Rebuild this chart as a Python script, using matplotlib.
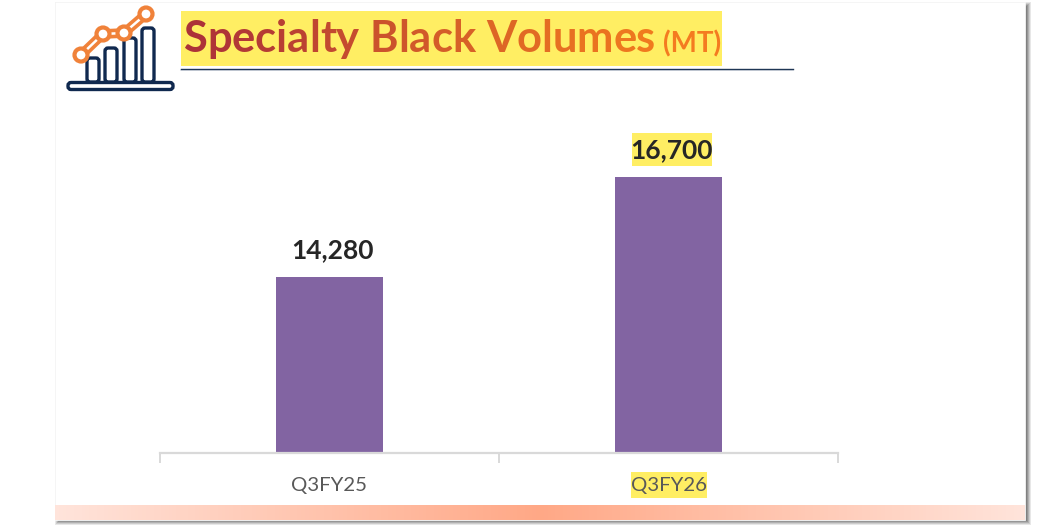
import matplotlib
matplotlib.use("Agg")
import matplotlib.pyplot as plt
from matplotlib.patches import Rectangle, FancyBboxPatch, Circle
from matplotlib.colors import LinearSegmentedColormap, to_rgb
import numpy as np

plt.rcParams['font.family'] = ['Lato', 'DejaVu Sans']

# Chart data
quarters = ["Q3FY25", "Q3FY26"]
volumes = [14280, 16700]
title_main = "Specialty Black Volumes"
title_unit = "(MT)"

W, H = 1037, 526
fig = plt.figure(figsize=(W / 100, H / 100), dpi=100)

# === Slide background, in pixel coordinates ===
bg = fig.add_axes([0, 0, 1, 1], zorder=0)
bg.set_xlim(0, W)
bg.set_ylim(H, 0)
bg.axis("off")

# soft shadow
for grow, a in [(5, 0.14), (4, 0.18), (3, 0.24), (2, 0.30), (1, 0.36), (0, 0.45)]:
    bg.add_patch(Rectangle((60 - grow, 7 - grow), 966 + 2 * grow, 513 + 2 * grow,
                           fc="#5a5a5a", ec="none", alpha=a))
bg.add_patch(Rectangle((55, 2), 970, 518, fc="white", ec="#f6f6f6", lw=0.6))

band = LinearSegmentedColormap.from_list("band", ["#FFE4DB", "#FFA886", "#FFE4DB"])
bg.imshow(np.linspace(0, 1, 256).reshape(1, -1), cmap=band, aspect="auto",
          extent=(55, 1025, 520, 505), zorder=2)
bg.set_xlim(0, W)
bg.set_ylim(H, 0)

# highlights behind the texts
yellow = "#FFEE63"
bg.add_patch(Rectangle((181, 11), 541, 55, fc=yellow, ec="none", zorder=3))
bg.add_patch(Rectangle((632, 133), 80, 33, fc=yellow, ec="none", zorder=3))
bg.add_patch(Rectangle((631, 472), 76, 26, fc=yellow, ec="none", zorder=3))

# title rule
bg.plot([181, 793], [70, 70], color="#dfe3ea", lw=1.2, zorder=3)
bg.plot([181, 793], [69, 69], color="#1F3655", lw=1.0, zorder=3)

# === Icon ===
navy = "#10294F"
orange = "#F0823A"
bg.add_patch(FancyBboxPatch((68, 82.5), 105, 7, boxstyle="round,pad=0,rounding_size=3",
                            fc="white", ec=navy, lw=2.4, zorder=4))
for left, top in [(87, 58), (105, 48), (124, 38), (142, 28)]:
    bg.add_patch(FancyBboxPatch((left, top), 12, 82 - top, boxstyle="round,pad=0,rounding_size=3",
                                fc="white", ec=navy, lw=2.4, zorder=4))
nodes = [(81, 55), (103, 34), (124, 33), (146, 14)]
for (x0, y0), (x1, y1) in zip(nodes[:-1], nodes[1:]):
    bg.plot([x0, x1], [y0, y1], color=orange, lw=7, zorder=5, solid_capstyle="butt")
    bg.plot([x0, x1], [y0, y1], color="white", lw=1.8, zorder=6, solid_capstyle="butt")
for x0, y0 in nodes:
    bg.add_patch(Circle((x0, y0), 6.5, fc="white", ec=orange, lw=3.0, zorder=7))

# === Title, one letter at a time for the colour gradient ===
fig.canvas.draw()
renderer = fig.canvas.get_renderer()


def text_width(s, size):
    t = bg.text(0, 0, s, fontsize=size, fontweight="bold")
    w = t.get_window_extent(renderer).width
    t.remove()
    return w


title_size = 31.3
c0 = np.array(to_rgb("#AC3238"))
c1 = np.array(to_rgb("#F07A1E"))
x_start = 183
for i, ch in enumerate(title_main):
    frac = i / (len(title_main) - 1)
    if ch != " ":
        x_ch = x_start + text_width(title_main[:i] + "|", title_size) - text_width("|", title_size)
        bg.text(x_ch, 52, ch, fontsize=title_size, fontweight="bold", va="baseline", ha="left",
                color=tuple(c0 + (c1 - c0) * frac), zorder=8)
bg.text(663, 52, title_unit, fontsize=20, fontweight="bold", va="baseline", ha="left",
        color="#F47B20", zorder=8)

# === Chart ===
ymin, ymax = 10000, 18000
px_per_unit = 276 / 6700
top_px = 453 - (ymax - ymin) * px_per_unit
ax = fig.add_axes([160 / W, (H - 453) / H, 678 / W, (453 - top_px) / H], zorder=1)
ax.patch.set_alpha(0)

x = np.arange(len(quarters))
ax.bar(x, volumes, width=0.314, color="#8264A2", zorder=2)
ax.set_xlim(-0.5, 1.5)
ax.set_ylim(ymin, ymax)

for i, v in enumerate(volumes):
    ax.annotate(f"{v:,}", (x[i], v), xytext=(2.2, 10.5), textcoords="offset points",
                ha="center", va="bottom", fontsize=19, fontweight="bold",
                color="#262626", zorder=3)

for side in ["top", "left", "right"]:
    ax.spines[side].set_visible(False)
ax.spines["bottom"].set_color("#D9D9D9")
ax.spines["bottom"].set_linewidth(1.6)
ax.set_yticks([])
ax.set_xticks(x)
ax.set_xticklabels(quarters, fontsize=14.7, color="#595959")
ax.set_xticks([-0.5, 0.5, 1.5], minor=True)
ax.tick_params(axis="x", which="major", length=0, pad=17)
ax.tick_params(axis="x", which="minor", length=7, width=1.4, color="#D9D9D9")

plt.savefig("out.png", dpi=100)
plt.close()
